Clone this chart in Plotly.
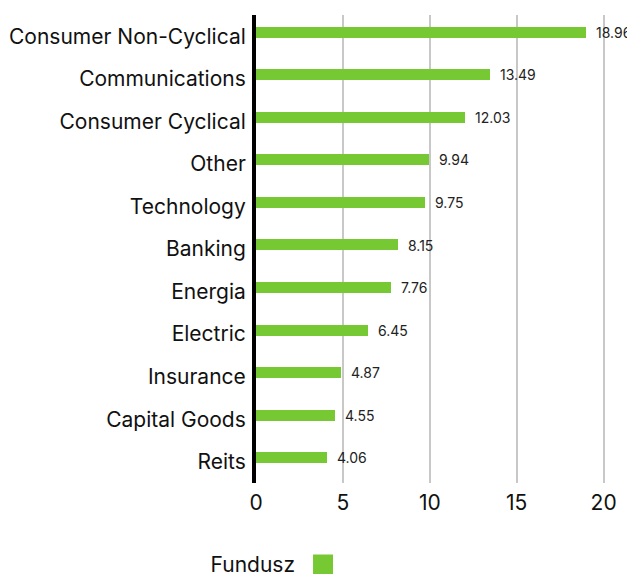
import plotly.graph_objects as go

categories = ["Consumer Non-Cyclical", "Communications", "Consumer Cyclical", "Other",
              "Technology", "Banking", "Energia", "Electric", "Insurance",
              "Capital Goods", "Reits"]
values = [18.96, 13.49, 12.03, 9.94, 9.75, 8.15, 7.76, 6.45, 4.87, 4.55, 4.06]
value_labels = ["18.96", "13.49", "12.03", "9.94", "9.75", "8.15", "7.76", "6.45", "4.87", "4.55", "4.06"]
x_ticks = [0, 5, 10, 15, 20]
series_name = "Fundusz"

GREEN = "#77C934"
FONT = "Inter"

fig = go.Figure()
fig.add_trace(go.Bar(
    x=values, y=categories, orientation="h",
    marker=dict(color=GREEN, line=dict(width=0)),
    width=0.26, offset=-0.225,
    showlegend=False, hoverinfo="x+y",
))
# legend proxy
fig.add_trace(go.Scatter(
    x=[None], y=[None], mode="markers", name="",
    marker=dict(symbol="square", size=16, color=GREEN, line=dict(color=GREEN, width=4)),
    showlegend=True,
))

for c, v, t in zip(categories, values, value_labels):
    fig.add_annotation(x=v, y=c, text=t, showarrow=False, xanchor="left",
                       xshift=8, yshift=4,
                       font=dict(family=FONT, size=14, color="#222222"))

fig.update_layout(
    width=635, height=574,
    margin=dict(l=248, r=22, t=7, b=99, autoexpand=False),
    paper_bgcolor="white", plot_bgcolor="white",
    font=dict(family=FONT, color="#111111"),
    bargap=0,
    xaxis=dict(range=[0, 21], tickvals=x_ticks, showgrid=True, gridcolor="#C8C8C8",
               gridwidth=2, zeroline=False, showline=False,
               tickfont=dict(size=21, color="#111111"),
               ticks="outside", ticklen=1, tickcolor="rgba(0,0,0,0)"),
    yaxis=dict(autorange="reversed", showline=True, linecolor="#000000", linewidth=4,
               showgrid=False, zeroline=False,
               tickfont=dict(size=21, color="#111111"),
               ticks="outside", ticklen=2, tickcolor="rgba(0,0,0,0)"),
    legend=dict(orientation="h", x=-0.13, xanchor="left", y=-0.175, yanchor="middle",
                title=dict(text=series_name, side="left", font=dict(size=21, color="#111111")),
                font=dict(size=21), itemwidth=30),
)

fig.write_html("out.html")
